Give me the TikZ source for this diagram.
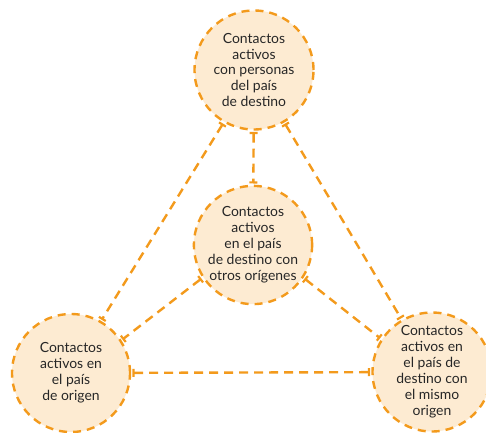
\documentclass[tikz,border=0pt]{standalone}
\usepackage{fontspec}
\setmainfont{Lato}
\usetikzlibrary{arrows.meta}
\definecolor{ring}{HTML}{F39A1C}
\definecolor{peach}{HTML}{FDEBD2}
\tikzset{
  bubble/.style={circle, draw=ring, fill=peach, line width=2.4bp,
    dash pattern=on 8bp off 6bp, minimum size=#1, inner sep=0pt,
    align=center, font=\fontsize{14}{16}\selectfont, text=black!85},
  link/.style={draw=ring, line width=2.4bp, dash pattern=on 9bp off 6bp,
    {Bar[width=8bp,line width=2.2bp]}-{Bar[width=8bp,line width=2.2bp]}, shorten <=1.2bp, shorten >=1.2bp}
}
\begin{document}
\begin{tikzpicture}[x=1bp,y=-1bp]
\useasboundingbox (0,0) rectangle (486,433);
\node[bubble=119bp] (top) at (254,70) {Contactos\\activos\\con personas\\del país\\de destino};
\node[bubble=117bp] (mid) at (253,245) {Contactos\\activos\\en el país\\de destino con\\otros orígenes};
\node[bubble=118bp] (left) at (71,373) {Contactos\\activos en\\el país\\de origen};
\node[bubble=119bp] (right) at (432,372) {Contactos\\activos en\\el país de\\destino con\\el mismo\\origen};
\path[link] (top) -- (mid);
\path[link] (top.240) -- (left.60);
\path[link] (top.300) -- (right.120);
\path[link] (mid.213) -- (left.33);
\path[link] (mid.327) -- (right.147);
\path[link] (left) -- (right);
\end{tikzpicture}
\end{document}
